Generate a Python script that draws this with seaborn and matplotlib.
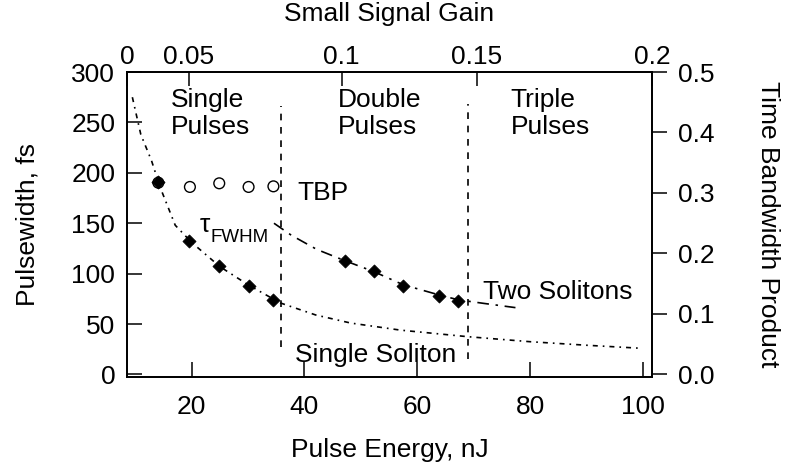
import matplotlib
matplotlib.use('Agg')
import matplotlib.pyplot as plt
import seaborn as sns

# measured pulsewidths (fs) vs pulse energy (nJ)
energy_single = [14.1, 19.6, 24.9, 30.1, 34.4]
width_single = [191, 132, 108, 88, 74]
energy_double = [47.1, 52.3, 57.5, 63.8, 67.3]
width_double = [113, 103, 88, 78, 73]

# time bandwidth product
energy_tbp = [14.1, 19.7, 24.9, 30.1, 34.5]
tbp = [0.317, 0.310, 0.316, 0.310, 0.311]

# soliton curves
fit_single_energy = [9.5, 11, 12.9, 14.4, 17.1, 20, 25, 30, 35.7, 42, 48.2, 57, 68.9, 80, 90, 99.6]
fit_single_width = [275, 238, 212, 186, 148, 131, 107, 89, 71, 59, 51, 44, 37.5, 32.5, 29, 26]
fit_two_energy = [34.6, 37.7, 42.2, 47.1, 52.3, 57.5, 63.8, 67.3, 71.8, 77.4]
fit_two_width = [150, 138, 124, 113, 102, 89, 79, 74, 70.5, 66.3]

# regime boundaries (nJ) and their vertical extent (fs)
boundary_energy = [35.9, 69.0]
boundary_top = [266, 268]
boundary_bottom = [27, 15]
region_labels = ['Single\nPulses', 'Double\nPulses', 'Triple\nPulses']
region_label_x = [16.3, 46.0, 76.5]

# small signal gain axis (positions in nJ)
gain_tick_energy = [8.55, 19.5, 46.6, 70.5, 101.6]
gain_tick_labels = ['0', '0.05', '0.1', '0.15', '0.2']

sns.set_theme(style='ticks')
plt.rcParams['font.family'] = ['Liberation Sans', 'DejaVu Sans']
plt.rcParams.update({'text.color': 'black', 'axes.labelcolor': 'black',
                     'xtick.color': 'black', 'ytick.color': 'black'})
FS = 19

fig = plt.figure(figsize=(7.85, 4.68), dpi=100)
ax = fig.add_axes([127 / 785, 1 - 377 / 468, 525 / 785, 305 / 468])
ax_r = ax.twinx()
ax_t = ax.twiny()

sns.lineplot(x=fit_single_energy, y=fit_single_width, ax=ax, color='black',
             lw=1.2, linestyle=(0, (3, 3, 1, 3)))
sns.lineplot(x=fit_two_energy, y=fit_two_width, ax=ax, color='black',
             lw=1.2, linestyle=(0, (7, 4, 1.5, 4)))
sns.scatterplot(x=energy_single + energy_double, y=width_single + width_double,
                ax=ax, marker='D', s=45, color='black', edgecolor='black', linewidth=0.5,
                zorder=3)
for e, top, bot in zip(boundary_energy, boundary_top, boundary_bottom):
    ax.vlines(e, bot, top, color='black', lw=1.2, linestyles=(0, (4, 4)))

sns.scatterplot(x=energy_tbp, y=tbp, ax=ax_r, marker='o', s=60,
                facecolor='none', edgecolor='black', linewidth=1, zorder=4)

ax.set_xlim(8.55, 101.6)
ax.set_ylim(-2.5, 300)
ax_r.set_ylim(-2.5 / 600, 0.5)
ax_t.set_xlim(ax.get_xlim())

ax.set_xticks([20, 40, 60, 80, 100])
ax.set_yticks(range(0, 301, 50))
ax_r.set_yticks([0, 0.1, 0.2, 0.3, 0.4, 0.5])
ax_r.set_yticklabels(['0.0', '0.1', '0.2', '0.3', '0.4', '0.5'])
ax_t.set_xticks(gain_tick_energy)
ax_t.set_xticklabels(gain_tick_labels)

ax.tick_params(axis='y', direction='in', length=11, width=1.1, pad=8.5,
               labelsize=FS, right=False)
ax.tick_params(axis='x', direction='in', length=11, width=1.1, pad=13,
               labelsize=FS, top=False)
ax_r.tick_params(axis='y', direction='out', length=11, width=1.1, pad=8,
                 labelsize=FS)
ax_t.tick_params(axis='x', direction='in', length=10, width=1.1, pad=2,
                 labelsize=FS)

for a in (ax, ax_r, ax_t):
    for sp in a.spines.values():
        sp.set_linewidth(1.1)
        sp.set_color('black')
        sp.set_visible(True)

ax.set_xlabel('Pulse Energy, nJ', fontsize=FS, va='center')
ax.xaxis.set_label_coords(0.5, -0.24)
ax.set_ylabel('Pulsewidth, fs', fontsize=FS, va='center')
ax.yaxis.set_label_coords(-0.19, 0.5)
ax_r.set_ylabel('Time Bandwidth Product', fontsize=FS, rotation=270, va='center')
ax_r.yaxis.set_label_coords(1.221, 0.5)
ax_t.set_xlabel('Small Signal Gain', fontsize=FS, va='center')
ax_t.xaxis.set_label_coords(0.5, 1.19)

for lab, x in zip(region_labels, region_label_x):
    ax.text(x, 284, lab, fontsize=FS, va='top', ha='left', linespacing=1.15)

ax.text(38.7, 173, 'TBP', fontsize=FS, va='baseline')
ax.text(21.5, 141.7, '\u03c4', fontsize=FS, va='baseline')
ax.text(23.4, 131.7, 'FWHM', fontsize=13.5, va='baseline')
ax.text(71.7, 74.6, 'Two Solitons', fontsize=FS, va='baseline')
ax.text(38.4, 12.4, 'Single Soliton', fontsize=FS, va='baseline')

fig.savefig('out.png', dpi=100)
